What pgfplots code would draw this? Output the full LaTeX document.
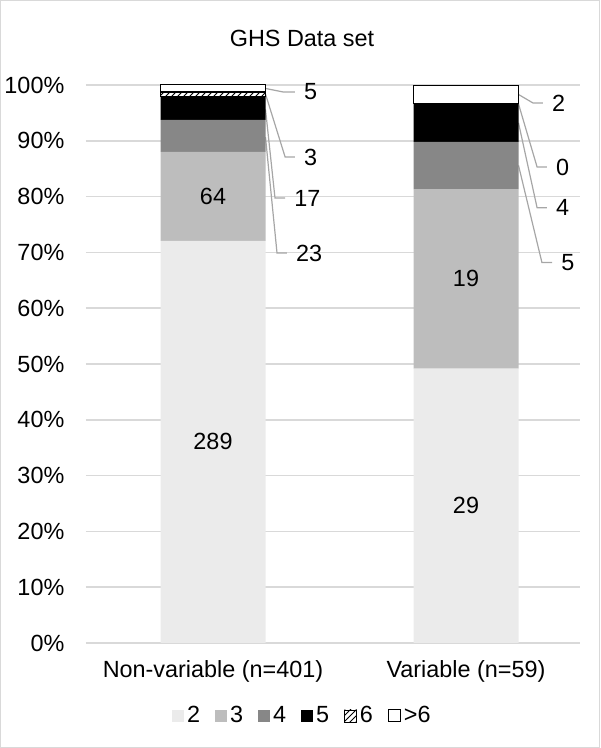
\documentclass[border=0pt]{standalone}
\usepackage{fontspec}
\setmainfont{Liberation Sans}
\usepackage{pgfplots}
\pgfplotsset{compat=1.18}
\usetikzlibrary{patterns}
\definecolor{cA}{HTML}{EBEBEB}
\definecolor{cB}{HTML}{BDBDBD}
\definecolor{cC}{HTML}{878787}
\definecolor{gridc}{HTML}{D9D9D9}
\definecolor{leadc}{HTML}{A6A6A6}
\tikzset{leader/.style={draw=leadc, line width=0.6pt}}
\pgfplotsset{
 legsq/.style={legend image code/.code={\fill[##1] (0pt,-3pt) rectangle (6pt,3pt);}},
 legsqd/.style={legend image code/.code={\filldraw[##1] (0pt,-3pt) rectangle (6pt,3pt);}},
}
\begin{document}
\begin{tikzpicture}[font=\fontsize{11.7}{14}\selectfont]
\useasboundingbox (-43pt,-52.5pt) rectangle (257pt,321.5pt);
\draw[color=gridc, line width=0.5pt] (-42.75pt,-52.25pt) rectangle (256.75pt,321.25pt);
\begin{axis}[
 at={(0pt,0pt)}, anchor=south west,
 scale only axis, width=247pt, height=279pt,
 ybar stacked, bar width=0.415,
 xmin=-0.502, xmax=1.4506, ymin=0, ymax=100,
 xtick={0,1}, xticklabels={Non-variable (n=401), Variable (n=59)},
 ytick={0,10,...,100}, yticklabel={\pgfmathprintnumber{\tick}\%},
 /pgf/number format/assume math mode=true,
 axis line style={draw=none}, major tick style={draw=none},
 ymajorgrids, grid style={color=gridc, line width=0.75pt},
 yticklabel style={xshift=-7.3pt},
 xticklabel style={yshift=-5pt},
 title={GHS Data set},
 title style={at={(0.5,1)}, anchor=center, yshift=17.5pt, xshift=-15.5pt},
 legend columns=6,
 legend style={draw=none, fill=none, at={(0.439,-0.1308)}, anchor=center,
   /tikz/every even column/.append style={column sep=6pt},
   nodes={inner sep=1.5pt}},
 legsq,
 clip=false,
 after end axis/.append code={
   \node at (axis cs:0,36.04) {289};
   \node at (axis cs:0,80.05) {64};
   \node at (axis cs:1,24.58) {29};
   \node at (axis cs:1,65.25) {19};
 },
]
\addplot[fill=cA, draw=none] coordinates {(0,72.07) (1,49.15)};
\addplot[fill=cB, draw=none] coordinates {(0,15.96) (1,32.20)};
\addplot[fill=cC, draw=none] coordinates {(0,5.74) (1,8.47)};
\addplot[fill=black, draw=none] coordinates {(0,4.24) (1,6.78)};
\addplot[pattern=north east lines, pattern color=black, draw=black, line width=0.4pt, legsqd] coordinates {(0,0.75) (1,0)};
\addplot[fill=white, draw=black, line width=0.5pt, legsqd] coordinates {(0,1.25) (1,3.39)};
\legend{2,3,4,5,6,>6}
% leader lines, bar 1
\draw[leader] (axis cs:0.2075,99.38) -- (axis cs:0.277,98.75) -- (axis cs:0.324,98.75) node[anchor=west, xshift=1pt, text=black]{5};
\draw[leader] (axis cs:0.2075,98.38) -- (axis cs:0.285,87.1) -- (axis cs:0.324,87.1) node[anchor=west, xshift=1pt, text=black]{3};
\draw[leader] (axis cs:0.2075,95.64) -- (axis cs:0.245,79.75) -- (axis cs:0.285,79.75) node[anchor=west, xshift=1pt, text=black]{17};
\draw[leader] (axis cs:0.2075,90.65) -- (axis cs:0.253,69.9) -- (axis cs:0.292,69.9) node[anchor=west, xshift=1pt, text=black]{23};
% leader lines, bar 2
\draw[leader] (axis cs:1.2075,98.3) -- (axis cs:1.265,96.77) -- (axis cs:1.304,96.77) node[anchor=west, xshift=1pt, text=black]{2};
\draw[leader] (axis cs:1.2075,96.61) -- (axis cs:1.281,85.3) -- (axis cs:1.320,85.3) node[anchor=west, xshift=1pt, text=black]{0};
\draw[leader] (axis cs:1.2075,93.22) -- (axis cs:1.281,78.0) -- (axis cs:1.320,78.0) node[anchor=west, xshift=1pt, text=black]{4};
\draw[leader] (axis cs:1.2075,85.6) -- (axis cs:1.300,68.2) -- (axis cs:1.340,68.2) node[anchor=west, xshift=1pt, text=black]{5};
\end{axis}
\end{tikzpicture}
\end{document}
